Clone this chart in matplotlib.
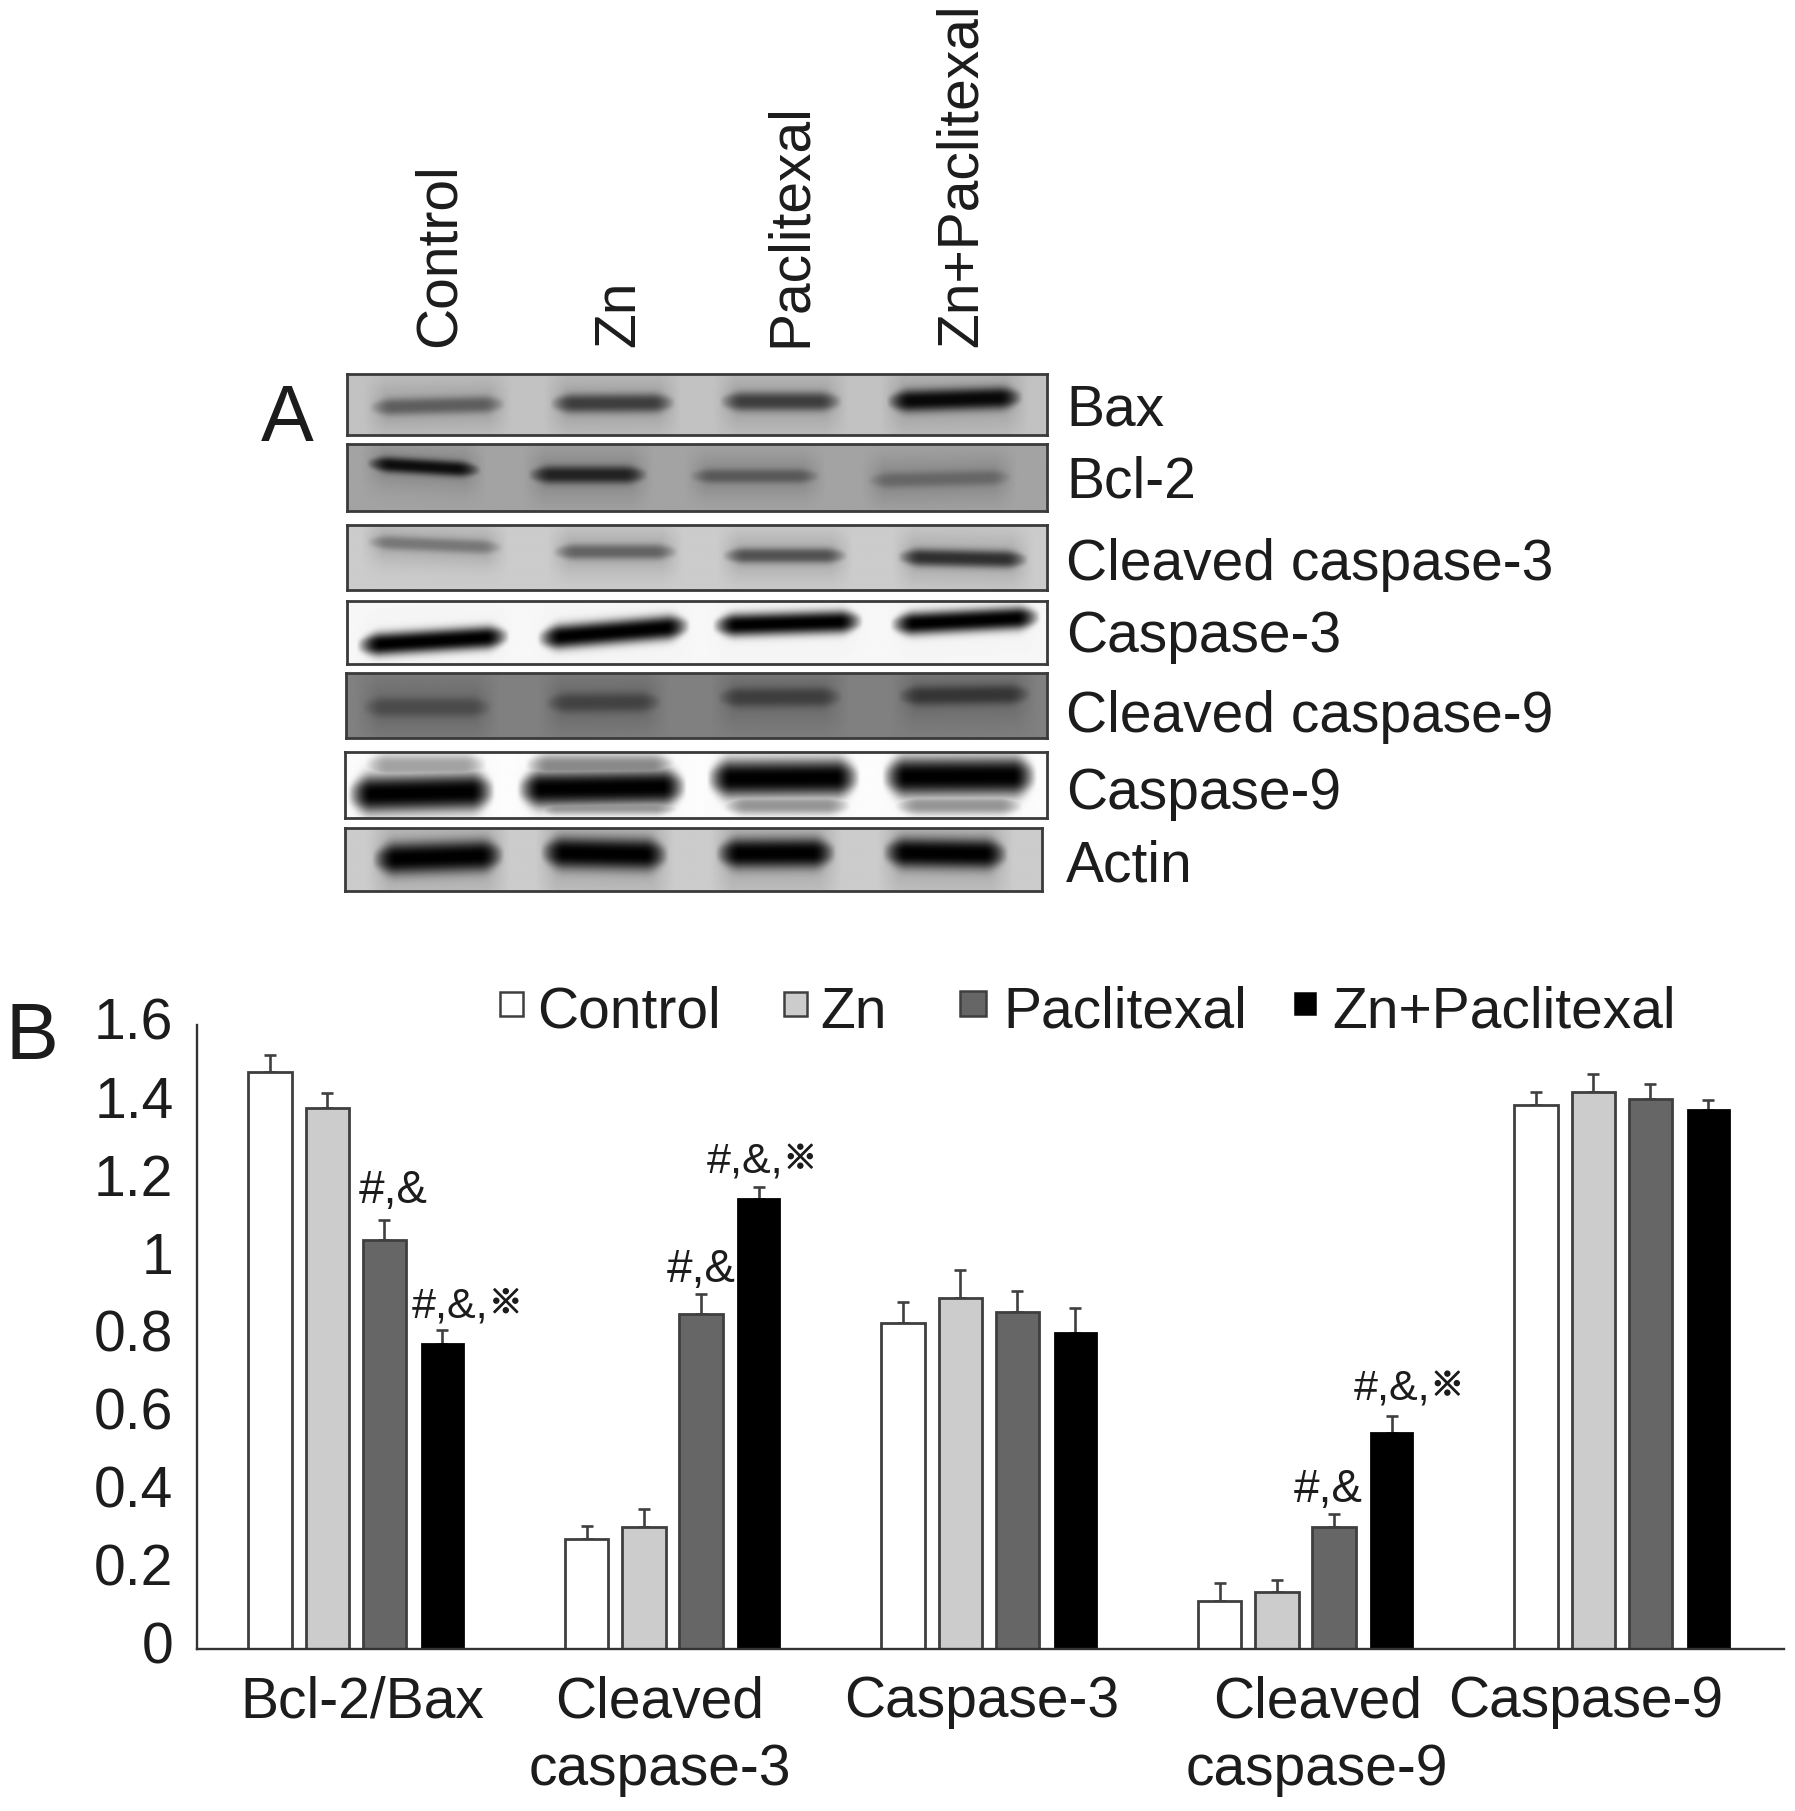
import numpy as np
import matplotlib
matplotlib.use("Agg")
import matplotlib.pyplot as plt
import matplotlib.patheffects as pe
from matplotlib.patches import Rectangle

W, H = 1795, 1811
plt.rcParams['font.family'] = ['Liberation Sans', 'Noto Sans CJK SC', 'DejaVu Sans']
TXT = '#1c1c1c'

# ---- data ----
categories = ['Bcl-2/Bax', 'Cleaved\ncaspase-3', 'Caspase-3', 'Cleaved\ncaspase-9', 'Caspase-9']
series_names = ['Control', 'Zn', 'Paclitexal', 'Zn+Paclitexal']
control = [1.479, 0.282, 0.835, 0.122, 1.394]
zn = [1.387, 0.313, 0.900, 0.147, 1.429]
paclitexal = [1.050, 0.860, 0.865, 0.313, 1.411]
zn_paclitexal = [0.782, 1.155, 0.811, 0.554, 1.382]
control_err = [0.044, 0.034, 0.055, 0.046, 0.033]
zn_err = [0.039, 0.045, 0.071, 0.030, 0.046]
paclitexal_err = [0.049, 0.049, 0.053, 0.032, 0.039]
zn_paclitexal_err = [0.035, 0.030, 0.063, 0.044, 0.026]
yticks = [0, 0.2, 0.4, 0.6, 0.8, 1, 1.2, 1.4, 1.6]
ytick_labels = ['0', '0.2', '0.4', '0.6', '0.8', '1', '1.2', '1.4', '1.6']
lanes = ['Control', 'Zn', 'Paclitexal', 'Zn+Paclitexal']
proteins = ['Bax', 'Bcl-2', 'Cleaved caspase-3', 'Caspase-3', 'Cleaved caspase-9', 'Caspase-9', 'Actin']

# blot bands: x0, x1, y0, y1, half thickness, darkness
bax_bands = [(235,485,135,125,24,.42),(565,795,124,122,27,.62),(875,1100,118,118,27,.62),(1180,1430,118,106,31,.95)]
bcl2_bands = [(230,440,295,315,22,.9),(525,745,328,328,25,.75),(820,1060,332,332,20,.35),(1145,1410,345,335,22,.25)]
cl3_bands = [(230,480,518,535,20,.3),(570,800,547,547,22,.42),(880,1110,558,558,22,.52),(1200,1440,562,570,25,.72)]
c3_bands = [(212,492,815,788,32,1.),(542,822,795,758,34,1.),(862,1138,758,745,32,1.),(1187,1462,755,733,32,1.)]
cl9_bands = [(220,460,990,990,28,.3),(555,770,978,975,28,.38),(870,1100,962,960,28,.42),(1200,1445,958,952,28,.5)]
c9_bands = [(195,465,1240,1230,52,1.),(505,815,1225,1218,50,1.),(852,1132,1195,1192,52,1.),(1172,1455,1190,1188,54,1.),
            (225,450,1160,1160,35,.35),(520,795,1160,1160,35,.45),(880,1115,1270,1270,26,.4),(1195,1430,1270,1270,26,.4),(535,800,1275,1275,22,.4)]
actin_bands = [(240,482,1425,1412,44,1.),(547,782,1405,1412,44,1.),(867,1088,1408,1406,42,1.),(1172,1402,1405,1410,42,1.)]

# panel frames in pixels of the figure and in blot coordinates
panels = [
    (347, 1047, 374, 435, 196, 1472, 40, 213, .76, bax_bands),
    (347, 1047, 444, 511, 196, 1472, 240, 432, .64, bcl2_bands),
    (347, 1047, 525, 590, 196, 1472, 470, 657, .80, cl3_bands),
    (347, 1047, 601, 664, 196, 1472, 688, 867, .97, c3_bands),
    (346, 1047, 673, 738, 193, 1472, 892, 1078, .50, cl9_bands),
    (345, 1047, 752, 818, 192, 1472, 1118, 1305, .99, c9_bands),
    (345, 1042, 828, 891, 192, 1462, 1335, 1515, .80, actin_bands),
]
label_baselines = [425, 498, 580, 652, 732, 809, 881]

fig = plt.figure(figsize=(W / 100, H / 100), dpi=100, facecolor='white')

def fx(p):
    return p / W

def fy(p):
    return 1 - p / H

# ---- panel A ----
for (l, r, t, b, zx0, zx1, zy0, zy1, bg, bands) in panels:
    ax = fig.add_axes([fx(l), fy(b), fx(r - l), (b - t) / H])
    xs = np.linspace(zx0, zx1, 420)
    ys = np.linspace(zy0, zy1, 120)
    X, Y = np.meshgrid(xs, ys)
    D = np.zeros_like(X)
    H_ = np.zeros_like(X)
    for x0, x1, y0, y1, th, dark in bands:
        yc = y0 + (y1 - y0) * (X - x0) / (x1 - x0)
        u = np.clip(np.minimum(X - x0, x1 - X) / 45, 0, 1)
        edge = np.sin(u * np.pi / 2)
        py = np.exp(-np.abs((Y - yc) / (th * (0.45 + 0.55 * edge) + 1e-3)) ** 2.6)
        D = np.maximum(D, dark * edge * py)
        # faint smear round each band, wider than the band
        sm = np.clip(np.minimum(X - x0 + 10, x1 - X + 10) / 40, 0, 1)
        H_ = np.maximum(H_, 0.16 * sm * np.exp(-((Y - yc) / (th * 3.0)) ** 2))
    if bg > 0.9:
        H_ = H_ * 0.1
    img = bg * (1 - H_) * (1 - D)
    ax.imshow(img, cmap='gray', vmin=0, vmax=1, aspect='auto', interpolation='bilinear',
              extent=[zx0, zx1, zy1, zy0])
    ax.set_xticks([])
    ax.set_yticks([])
    for s in ax.spines.values():
        s.set_color('#3a3a3a')
        s.set_linewidth(2.0)

for name, by in zip(proteins, label_baselines):
    fig.text(fx(1066), fy(by), name, fontsize=41, color=TXT, ha='left', va='baseline')

lane_x = [455, 634, 806, 977]
for name, x in zip(lanes, lane_x):
    fig.text(fx(x), fy(347), name, fontsize=41, color=TXT, rotation=90,
             rotation_mode='anchor', ha='left', va='baseline')

fig.text(fx(261), fy(441), 'A', fontsize=57, color=TXT, ha='left', va='baseline')
fig.text(fx(5), fy(1059), 'B', fontsize=57, color=TXT, ha='left', va='baseline')

# ---- panel B ----
ax_l, ax_r, ax_t, ax_b = 197, 1784, 1025, 1649
ax = fig.add_axes([fx(ax_l), fy(ax_b), fx(ax_r - ax_l), (ax_b - ax_t) / H])
pos = np.arange(len(categories))
offsets = [-0.270, -0.089, 0.091, 0.2735]
colors = ['white', '#cccccc', '#666666', 'black']
values = [control, zn, paclitexal, zn_paclitexal]
errors = [control_err, zn_err, paclitexal_err, zn_paclitexal_err]
for i in range(4):
    is_black = i == 3
    ax.bar(pos + offsets[i], values[i], width=0.130 if is_black else 0.137, color=colors[i],
           edgecolor='black' if is_black else '#3f3f3f', linewidth=2.0, zorder=2)
    ax.errorbar(pos + offsets[i], values[i], yerr=[np.zeros(5), errors[i]], fmt='none',
                ecolor='#3f3f3f', elinewidth=1.9, capsize=4.2, capthick=1.9, zorder=1)

ax.set_xlim(-0.501, 4.513)
ax.set_ylim(0, 1.6)
for s in ['top', 'right']:
    ax.spines[s].set_visible(False)
for s in ['left', 'bottom']:
    ax.spines[s].set_color('#333333')
    ax.spines[s].set_linewidth(1.7)
ax.set_yticks(yticks, ytick_labels, fontsize=41, color=TXT)
ax.tick_params(axis='y', length=0, pad=17)
for t in ax.get_yticklabels():
    t.set_verticalalignment('center')

label_shift = [0.02, -0.04, -0.021, 0.038, -0.114]
ax.set_xticks(pos + np.array(label_shift), categories, fontsize=41, color=TXT, linespacing=1.335)
ax.tick_params(axis='x', length=0, pad=19)

# significance marks: group, bar, text, pixel offset
marks = [
    (0, 2, '#,&', 9, 17), (0, 3, '#,&,※', 23, 13),
    (1, 2, '#,&', 0, 12), (1, 3, '#,&,※', 1, 14),
    (3, 2, '#,&', -6, 12), (3, 3, '#,&,※', 15, 16),
]
for g, b, txt, dx, dy in marks:
    xy = (g + offsets[b], values[b][g] + errors[b][g])
    if txt.endswith('※'):
        ax.annotate(txt[:-1], xy=xy, xytext=(dx - 53, dy), textcoords='offset pixels',
                    ha='left', va='baseline', fontsize=31, color=TXT, annotation_clip=False)
        ax.annotate(txt[-1], xy=xy, xytext=(dx + 24, dy + 4), textcoords='offset pixels',
                    ha='left', va='baseline', fontsize=24, color=TXT,
                    family=['Noto Sans CJK SC'], annotation_clip=False,
                    path_effects=[pe.withStroke(linewidth=1.0, foreground=TXT)])
    else:
        ax.annotate(txt, xy=xy, xytext=(dx, dy), textcoords='offset pixels', ha='center',
                    va='baseline', fontsize=33, color=TXT, annotation_clip=False)

# ---- legend ----
swatches = [(500, 992, 23, 24), (784, 992, 23, 24), (960, 991, 26, 25), (1295, 993, 20, 21)]
text_x = [537, 820, 1003, 1332]
for name, c, (sx, sy, sw, sh), tx in zip(series_names, colors, swatches, text_x):
    fig.add_artist(Rectangle((fx(sx), fy(sy + sh)), sw / W, sh / H, transform=fig.transFigure,
                             facecolor=c, edgecolor='#3f3f3f' if c != 'black' else 'black', linewidth=1.8))
    fig.text(fx(tx), fy(1028), name, fontsize=41, color=TXT, ha='left', va='baseline')

fig.savefig('out.png', dpi=100, facecolor='white')
